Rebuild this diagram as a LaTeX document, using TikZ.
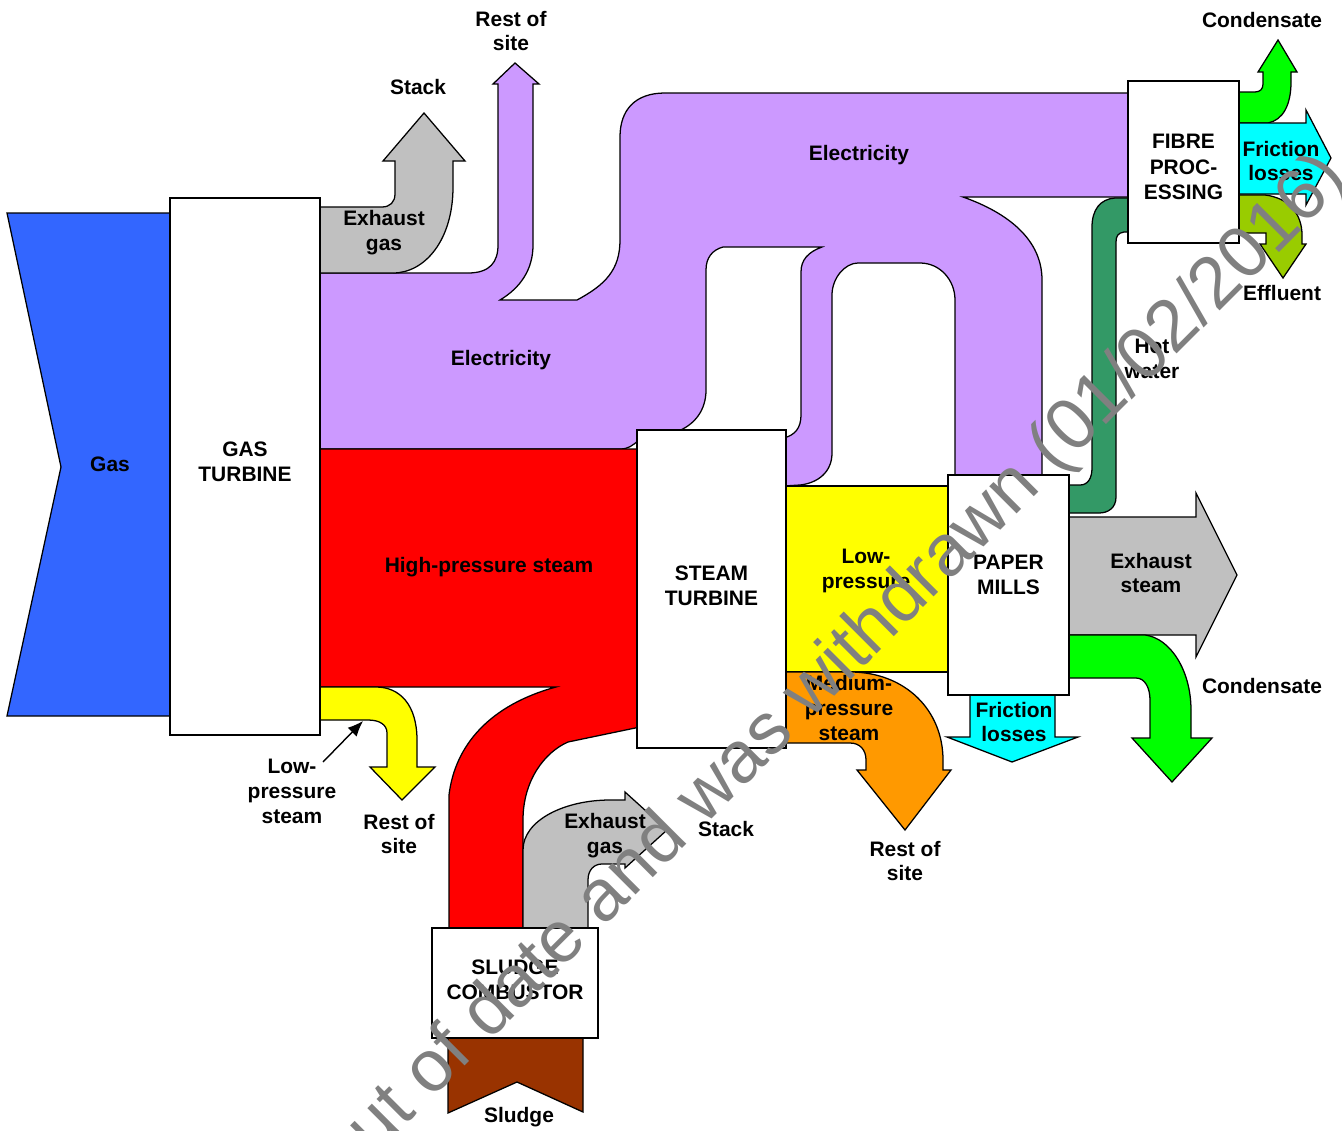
\documentclass[tikz,border=0pt]{standalone}
\usepackage{fontspec}
\setmainfont{Liberation Sans}
\usetikzlibrary{arrows.meta, positioning}
\definecolor{gasblue}{HTML}{3366FF}
\definecolor{elec}{HTML}{CC99FF}
\definecolor{hpred}{HTML}{FF0000}
\definecolor{lpyellow}{HTML}{FFFF00}
\definecolor{mporange}{HTML}{FF9900}
\definecolor{exhgrey}{HTML}{C0C0C0}
\definecolor{fricyan}{HTML}{00FFFF}
\definecolor{condgreen}{HTML}{00FF00}
\definecolor{hotgreen}{HTML}{339966}
\definecolor{effolive}{HTML}{99CC00}
\definecolor{sludgebrown}{HTML}{993300}
\definecolor{stampgrey}{HTML}{808080}
\newcommand{\pxu}{0.025cm}
\tikzstyle{flow} = [draw, line width=0.9pt]
\tikzstyle{block} = [rectangle, draw, fill=white, line width=2.1pt, text centered, align=center, inner sep=0pt, font=\bfseries\fontsize{14.9}{17.9}\selectfont]
\tikzstyle{tag} = [align=center, inner sep=0pt, font=\bfseries\fontsize{14.9}{17.7}\selectfont]
\tikzstyle{line} = [draw, line width=1pt, -{Latex[length=11pt,width=9pt]}]
\tikzstyle{stamp} = [anchor=base, rotate=45, inner sep=0pt, text=stampgrey, font=\fontsize{51.9}{60}\selectfont]

\begin{document}
\begin{tikzpicture}[x=\pxu, y=-\pxu]
\useasboundingbox (0,0) rectangle (1342,1131);
\clip (0,0) rectangle (1342,1131);

\path [flow, fill=gasblue] (7,213) -- (172,213) -- (172,716) -- (7,716) -- (61,467) -- cycle;
\path [flow, fill=elec] (318,273) -- (468,273) .. controls (490,273) and (498,262) .. (498,245) -- (498,84) -- (493,84) -- (515,63) -- (539,84) -- (533,84) -- (533,245) .. controls (533,270) and (520,288) .. (500,300) -- (577,300) .. controls (605,285) and (620,270) .. (620,240) -- (620,137) .. controls (620,110) and (635,93) .. (665,93) -- (1132,93) -- (1132,197) -- (963,197) .. controls (1000,210) and (1042,235) .. (1042,280) -- (1042,478) -- (955,478) -- (955,300) .. controls (955,280) and (940,263) .. (920,263) -- (858,263) .. controls (845,263) and (832,278) .. (832,295) -- (832,453) .. controls (832,472) and (818,483) .. (800,485) -- (784,486) -- (784,438) .. controls (795,435) and (801,428) .. (801,415) -- (801,272) .. controls (801,260) and (808,252) .. (822,247) -- (723,247) .. controls (712,250) and (706,258) .. (706,270) -- (706,390) .. controls (706,410) and (695,425) .. (676,432) -- (640,432) -- (639,440) .. controls (632,446) and (628,449) .. (620,449) -- (318,449) -- cycle;
\path [flow, fill=exhgrey] (318,207) -- (382,207) .. controls (390,207) and (395,202) .. (395,194) -- (395,161) -- (383,161) -- (424,113) -- (465,161) -- (453,161) -- (453,187) .. controls (453,240) and (425,273) .. (393,273) -- (318,273) -- cycle;
\path [flow, fill=hpred] (318,449) -- (640,449) -- (640,727) -- (568,742) .. controls (545,752) and (523,780) .. (523,820) -- (523,930) -- (449,930) -- (449,795) .. controls (455,745) and (490,705) .. (556,687) -- (318,687) -- cycle;
\path [flow, fill=lpyellow] (318,687) -- (376,687) .. controls (400,687) and (417,705) .. (417,740) -- (417,767) -- (435,767) -- (402,800) -- (370,767) -- (387,767) -- (387,733) .. controls (387,725) and (380,720) .. (368,720) -- (318,720) -- cycle;
\path [flow, fill=lpyellow] (784,486) rectangle (950,672);
\path [flow, fill=mporange] (784,672) -- (850,672) .. controls (905,672) and (943,710) .. (943,760) -- (943,770) -- (951,770) -- (905,830) -- (857,770) -- (866,770) -- (866,760) .. controls (866,750) and (860,743) .. (850,743) -- (784,743) -- cycle;
\path [flow, fill=exhgrey] (1067,517) -- (1196,517) -- (1196,493) -- (1237,575) -- (1196,657) -- (1196,635) -- (1067,635) -- cycle;
\path [flow, fill=condgreen] (1067,635) -- (1145,635) .. controls (1170,638) and (1191,670) .. (1191,710) -- (1191,738) -- (1212,738) -- (1172,782) -- (1132,738) -- (1150,738) -- (1150,700) .. controls (1150,688) and (1145,678) .. (1136,678) -- (1067,678) -- cycle;
\path [flow, fill=fricyan] (970,693) -- (1055,693) -- (1055,737) -- (1078,737) -- (1012,762) -- (947,737) -- (970,737) -- cycle;
\path [flow, fill=hotgreen] (1067,485) -- (1080,485) .. controls (1088,485) and (1092,478) .. (1092,468) -- (1092,227) .. controls (1092,210) and (1100,199) .. (1115,198) -- (1130,198) -- (1130,232) -- (1124,232) .. controls (1118,233) and (1116,236) .. (1116,242) -- (1116,497) .. controls (1116,508) and (1108,513) .. (1099,513) -- (1067,513) -- cycle;
\path [flow, fill=condgreen] (1237,92) -- (1255,92) .. controls (1260,92) and (1263,89) .. (1263,84) -- (1263,72) -- (1258,72) -- (1278,40) -- (1297,72) -- (1291,72) -- (1291,82) .. controls (1291,105) and (1283,120) .. (1268,123) -- (1237,123) -- cycle;
\path [flow, fill=fricyan] (1237,123) -- (1306,123) -- (1306,110) -- (1331,158) -- (1306,205) -- (1306,194) -- (1237,194) -- cycle;
\path [flow, fill=effolive] (1237,195) -- (1265,195) .. controls (1290,198) and (1302,215) .. (1302,235) -- (1302,244) -- (1306,244) -- (1283,278) -- (1260,244) -- (1266,244) -- (1266,233) -- (1237,233) -- cycle;
\path [flow, fill=exhgrey] (523,930) -- (523,850) .. controls (523,820) and (565,800) .. (610,800) -- (625,800) -- (625,792) -- (667,830) -- (625,868) -- (625,864) -- (602,864) .. controls (594,864) and (588,870) .. (588,880) -- (588,930) -- cycle;
\path [flow, fill=sludgebrown] (448,1036) -- (583,1036) -- (583,1112) -- (517,1082) -- (448,1113) -- cycle;

\node [block, minimum width=150*\pxu, minimum height=537*\pxu, text depth=0.25cm] (gasturbine) at (245,466.5) {GAS\\TURBINE};
\node [block, minimum width=149*\pxu, minimum height=318*\pxu, text depth=0.15cm] (steamturbine) at (711.5,589) {STEAM\\TURBINE};
\node [block, minimum width=121*\pxu, minimum height=220*\pxu, text depth=0.5cm] (papermills) at (1008.5,585) {PAPER\\MILLS};
\node [block, minimum width=111*\pxu, minimum height=162*\pxu, text height=54pt, font=\bfseries\fontsize{14.9}{18.3}\selectfont] (fibre) at (1183.5,162) {FIBRE\\PROC-\\ESSING};
\node [block, minimum width=166*\pxu, minimum height=110*\pxu, text depth=0.15cm] (sludgecombustor) at (515,983) {SLUDGE\\COMBUSTOR};

\node [tag] (gas) at (110,464) {Gas};
\node [tag] (gtexhaust) at (384,233) {Exhaust\\gas};
\node [tag] (gtstack) at (418,87) {Stack};
\node [tag] (gtrest) at (511,31) {Rest of\\site};
\node [tag] (gtelec) at (501,360) {Electricity};
\node [tag] (topelec) at (859,155) {Electricity};
\node [tag] (hpsteam) at (489,567) {High-pressure steam};
\node [tag] (gtlp) at (292,791) {Low-\\pressure\\steam};
\node [tag] (gtlprest) at (399,834) {Rest of\\site};
\node [tag] (stlp) at (866,571) {Low-\\pressure};
\node [tag] (stmp) at (849,708) {Medium-\\pressure\\steam};
\node [tag] (stmprest) at (905,861) {Rest of\\site};
\node [tag] (pmfriction) at (1014,722) {Friction\\losses};
\node [tag] (pmexhaust) at (1151,573) {Exhaust\\steam};
\node [tag] (pmcond) at (1262,686) {Condensate};
\node [tag] (hotwater) at (1152,359) {Hot\\water};
\node [tag] (fpcond) at (1262,20) {Condensate};
\node [tag] (fpfriction) at (1281,161) {Friction\\losses};
\node [tag] (effluent) at (1282,293) {Effluent};
\node [tag] (scexhaust) at (605,836) {Exhaust\\gas};
\node [tag] (scstack) at (726,829) {Stack};
\node [tag] (sludge) at (519,1117) {Sludge};

\coordinate (lptail) at (323,762);
\coordinate (lptip) at (363,721);
\path [line] (lptail) -- (lptip);

\node [stamp] (withdrawn) at (842,689) {Out of date and was withdrawn (01/02/2016)};
\end{tikzpicture}
\end{document}
